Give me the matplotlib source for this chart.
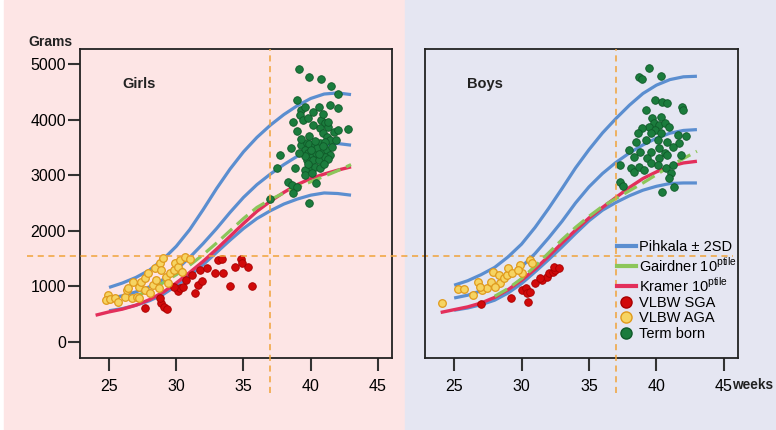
import numpy as np
import matplotlib.pyplot as plt
from matplotlib.patches import Rectangle
from matplotlib.lines import Line2D
from matplotlib.transforms import blended_transform_factory

plt.rcParams['font.family'] = ['Liberation Sans', 'DejaVu Sans']
plt.rcParams['mathtext.fontset'] = 'custom'
plt.rcParams['mathtext.rm'] = 'Liberation Sans'

# reference curves, one value per week
weeks = list(range(25, 44))
girls_up = [980, 1060, 1160, 1290, 1480, 1720, 2020, 2380, 2760, 3110, 3420, 3680, 3900, 4090, 4250, 4380, 4460, 4480, 4450]
girls_mid = [780, 830, 900, 990, 1120, 1300, 1520, 1770, 2040, 2330, 2600, 2830, 3020, 3190, 3340, 3460, 3540, 3570, 3540]
girls_lo = [560, 600, 660, 740, 850, 1010, 1190, 1390, 1610, 1830, 2040, 2220, 2360, 2480, 2570, 2640, 2680, 2670, 2640]
boys_up = [1020, 1100, 1210, 1340, 1530, 1760, 2060, 2400, 2760, 3130, 3460, 3760, 4020, 4260, 4470, 4620, 4720, 4770, 4780]
boys_mid = [790, 840, 920, 1010, 1160, 1350, 1590, 1870, 2170, 2500, 2790, 3030, 3230, 3400, 3545, 3665, 3755, 3805, 3820]
boys_lo = [570, 610, 670, 750, 880, 1050, 1260, 1480, 1710, 1950, 2180, 2370, 2510, 2630, 2730, 2800, 2850, 2860, 2860]

kramer_weeks = list(range(24, 44))
girls_kramer = [480, 540, 590, 660, 760, 890, 1060, 1250, 1450, 1670, 1900, 2130, 2350, 2530, 2690, 2830, 2940, 3020, 3090, 3150]
boys_kramer = [530, 580, 630, 700, 800, 940, 1110, 1310, 1540, 1780, 2010, 2230, 2420, 2600, 2780, 2940, 3060, 3160, 3220, 3250]

girls_gair_weeks = list(range(27, 44))
girls_gair = [820, 930, 1060, 1210, 1380, 1570, 1780, 2000, 2220, 2420, 2560, 2680, 2790, 2880, 2980, 3080, 3190]
boys_gair_weeks = list(range(28, 44))
boys_gair = [820, 960, 1140, 1360, 1600, 1840, 2060, 2260, 2440, 2580, 2720, 2860, 3010, 3160, 3300, 3430]

# individual infants (gestational age, birth weight)
girls_sga_x = [27.7, 28.9, 29.1, 29.3, 30.1, 30.3, 30.5, 31.4, 31.6, 31.9, 30.7, 31.2, 31.8, 32.3, 32.9, 33.5, 33.1, 33.4, 34.0, 34.4, 34.8, 34.9, 35.3, 35.6, 29.8, 28.8]
girls_sga_y = [618, 696, 636, 600, 924, 966, 996, 888, 1026, 1098, 1116, 1206, 1296, 1326, 1236, 1248, 1476, 1488, 1008, 1344, 1488, 1428, 1356, 1008, 996, 786]
girls_aga_x = [24.95, 24.8, 25.1, 25.45, 25.7, 26.2, 26.3, 26.4, 26.7, 26.8, 27.1, 27.2, 27.2, 27.4, 27.7, 27.7, 27.9, 28.05, 28.3, 28.4, 28.5, 28.7, 28.8, 28.9, 29.0, 29.2, 29.4, 29.5, 29.8, 29.9, 30.15, 30.3, 30.4, 30.65, 31.0]
girls_aga_y = [846, 756, 768, 786, 726, 816, 936, 966, 786, 1086, 816, 996, 786, 1086, 936, 1146, 1236, 876, 1026, 1326, 1116, 966, 1416, 1296, 1506, 1176, 1056, 1236, 1296, 1416, 1356, 1476, 1266, 1536, 1488]
girls_term_x = [39.15, 39.9, 40.8, 41.5, 42.0, 38.95, 39.3, 39.6, 39.2, 39.45, 38.7, 39.8, 40.2, 40.6, 41.4, 42.05, 40.8, 41.05, 40.7, 41.3,
                41.7, 42.05, 42.8, 40.9, 41.2, 41.4, 38.5, 39.3, 39.7, 39.9, 40.3, 40.7, 41.05, 41.9, 39.6, 39.8, 40.1, 40.4, 40.8, 41.2,
                41.4, 39.7, 40.2, 40.6, 41.05, 39.9, 40.3, 40.7, 39.6, 38.8, 37.7, 37.5, 38.3, 38.6, 38.95, 38.7, 36.97, 39.9, 40.4, 39.6,
                40.1, 39.3, 39.9, 40.5, 40.9, 41.3, 40.0, 39.6, 40.3, 41.0, 41.6, 39.1, 40.2, 40.9, 41.3, 39.0, 40.6, 39.8]
girls_term_y = [4911, 4773, 4731, 4611, 4461, 4353, 4173, 4233, 4083, 3993, 3963, 4023, 4143, 4233, 4263, 4203, 3993, 3933, 3843, 3873,
                3783, 3813, 3825, 3753, 3693, 3633, 3483, 3543, 3573, 3561, 3543, 3573, 3603, 3633, 3453, 3393, 3333, 3393, 3423, 3453,
                3363, 3273, 3273, 3273, 3333, 3153, 3153, 3123, 3093, 3123, 3363, 3123, 2883, 2823, 2793, 2673, 2565, 2505, 2853, 3003,
                3033, 3650, 3700, 3480, 3520, 3300, 3450, 3350, 3620, 3200, 3500, 3400, 3900, 4100, 3950, 3800, 3380, 3200]
boys_sga_x = [27.0, 29.2, 30.0, 30.3, 30.4, 30.5, 30.65, 31.0, 31.5, 31.9, 32.0, 32.3, 32.5, 32.4, 32.75, 31.4]
boys_sga_y = [678, 786, 936, 966, 876, 726, 906, 1056, 1116, 1164, 1236, 1266, 1296, 1356, 1326, 1146]
boys_aga_x = [24.1, 25.3, 25.7, 26.4, 26.8, 27.1, 27.4, 27.7, 27.9, 28.3, 28.4, 28.7, 28.9, 29.0, 29.3, 29.9, 30.0, 30.65, 30.8, 26.9, 28.05, 29.7]
boys_aga_y = [696, 948, 948, 846, 1086, 936, 966, 1086, 1266, 1206, 1056, 1146, 1206, 1326, 1236, 1386, 1236, 1476, 1416, 996, 996, 1296]
boys_term_x = [39.45, 38.7, 38.9, 40.3, 39.9, 40.4, 40.8, 41.9, 42.0, 39.2, 39.7, 40.3, 39.8, 39.45, 40.2, 40.6, 40.9, 38.96, 39.9, 38.6,
               39.6, 40.3, 41.6, 42.2, 38.5, 39.2, 40.1, 40.8, 41.7, 37.96, 38.8, 39.6, 40.2, 40.6, 41.2, 38.3, 39.3, 40.2, 40.8, 41.8,
               37.3, 38.1, 38.3, 38.7, 39.1, 39.6, 40.1, 40.7, 41.2, 41.06, 40.9, 37.3, 37.5, 41.3, 40.4]
boys_term_y = [4935, 4773, 4725, 4791, 4353, 4311, 4293, 4233, 4173, 4173, 4023, 4053, 3933, 3873, 3903, 3933, 3873, 3843, 3813, 3753,
               3753, 3753, 3723, 3711, 3603, 3633, 3633, 3603, 3573, 3453, 3423, 3423, 3483, 3393, 3513, 3333, 3303, 3303, 3363, 3363,
               3183, 3123, 3063, 3153, 3093, 3213, 3183, 3123, 3183, 3033, 2943, 2883, 2811, 2793, 2703]

pink = '#fde5e5'
lav = '#e5e6f2'
blue = '#5b8ed0'
green = '#8cc65a'
crimson = '#e32f5b'
orange = '#f0a33a'

fig = plt.figure(figsize=(7.76, 4.30), dpi=100)
fig.patch.set_facecolor('white')
fig.add_artist(Rectangle((0.005, 0), 0.517, 1, transform=fig.transFigure, color=pink, zorder=-10))
fig.add_artist(Rectangle((0.522, 0), 0.478, 1, transform=fig.transFigure, color=lav, zorder=-10))

ax1 = fig.add_axes([0.1031, 0.1674, 0.4021, 0.7186])
ax2 = fig.add_axes([0.5477, 0.1674, 0.4034, 0.7186])

panels = [
    (ax1, pink, girls_up, girls_mid, girls_lo, girls_kramer, girls_gair_weeks, girls_gair,
     girls_sga_x, girls_sga_y, girls_aga_x, girls_aga_y, girls_term_x, girls_term_y, 'Girls'),
    (ax2, lav, boys_up, boys_mid, boys_lo, boys_kramer, boys_gair_weeks, boys_gair,
     boys_sga_x, boys_sga_y, boys_aga_x, boys_aga_y, boys_term_x, boys_term_y, 'Boys'),
]

for (ax, bg, up, mid, lo, kr, gw, ga, sx, sy, ax_, ay, tx, ty, title) in panels:
    ax.set_facecolor(bg)
    ax.set_xlim(22.84, 46.05)
    ax.set_ylim(-290, 5270)
    for c in (up, mid, lo):
        ax.plot(weeks, c, color=blue, lw=2.3, solid_capstyle='butt', zorder=3)
    ax.plot(kramer_weeks, kr, color=crimson, lw=2.4, solid_capstyle='butt', zorder=3.5)
    ax.plot(gw, ga, color=green, lw=2.3, dashes=(4.5, 2), zorder=4)
    ax.scatter(sx, sy, s=30, color='#d10a0a', edgecolors='#a80000', linewidths=0.6, zorder=5)
    ax.scatter(ax_, ay, s=30, color='#f6d462', edgecolors='#e09a1c', linewidths=0.9, zorder=5)
    ax.scatter(tx, ty, s=30, color='#1b7c3d', edgecolors='#0f5a29', linewidths=0.6, zorder=5)
    # 37 weeks guide
    ax.plot([37, 37], [-920, 5270], color=orange, lw=1.1, dashes=(4, 3), clip_on=False, zorder=6)
    ax.text(0.135, 0.875, title, transform=ax.transAxes, fontsize=10.5, fontweight='bold', color='#222222')
    ax.set_xticks([25, 30, 35, 40, 45])
    ax.set_xticklabels(['25', '30', '35', '40', '45'])
    ax.tick_params(axis='x', direction='out', length=9, width=1.5, color='#333333', pad=6, labelsize=11.5)
    ax.tick_params(axis='y', direction='out', length=9, width=1.5, color='#333333', pad=1, labelsize=11.5)
    for s in ax.spines.values():
        s.set_color('#222222')
        s.set_linewidth(1.3)

ax1.set_yticks([0, 1000, 2000, 3000, 4000, 5000])
ax2.set_yticks([])

# 1500 g guide across both panels
tr1 = blended_transform_factory(ax1.transAxes, ax1.transData)
ax1.plot([-0.17, 1.11], [1550, 1550], color=orange, lw=1.1, dashes=(4, 3), transform=tr1, clip_on=False, zorder=6)
tr2 = blended_transform_factory(ax2.transAxes, ax2.transData)
ax2.plot([-0.01, 0.985], [1550, 1550], color=orange, lw=1.1, dashes=(4, 3), transform=tr2, clip_on=False, zorder=1)

fig.text(0.036, 0.902, 'Grams', fontsize=10, fontweight='bold', va='center', color='#222222')
fig.text(0.944, 0.105, 'weeks', fontsize=9.8, fontweight='bold', va='center', color='#222222')

handles = [
    Line2D([], [], color=blue, lw=3),
    Line2D([], [], color=green, lw=3),
    Line2D([], [], color=crimson, lw=3),
    Line2D([], [], ls='none', marker='o', ms=8, color='#d10a0a', mec='#a80000'),
    Line2D([], [], ls='none', marker='o', ms=8, color='#f6d462', mec='#e09a1c'),
    Line2D([], [], ls='none', marker='o', ms=8, color='#1b7c3d', mec='#0f5a29'),
]
labels = ['Pihkala ± 2SD', r'Gairdner 10$^{\mathrm{ptile}}$', r'Kramer 10$^{\mathrm{ptile}}$',
          'VLBW SGA', 'VLBW AGA', 'Term born']
leg = ax2.legend(handles, labels, loc='upper left', bbox_to_anchor=(0.795, 0.441),
                 bbox_transform=fig.transFigure, frameon=False, fontsize=10.5,
                 handlelength=1.3, handletextpad=0.2, labelspacing=0.1,
                 borderpad=0, borderaxespad=0)
leg.set_zorder(10)

fig.savefig('out.png', dpi=100)
